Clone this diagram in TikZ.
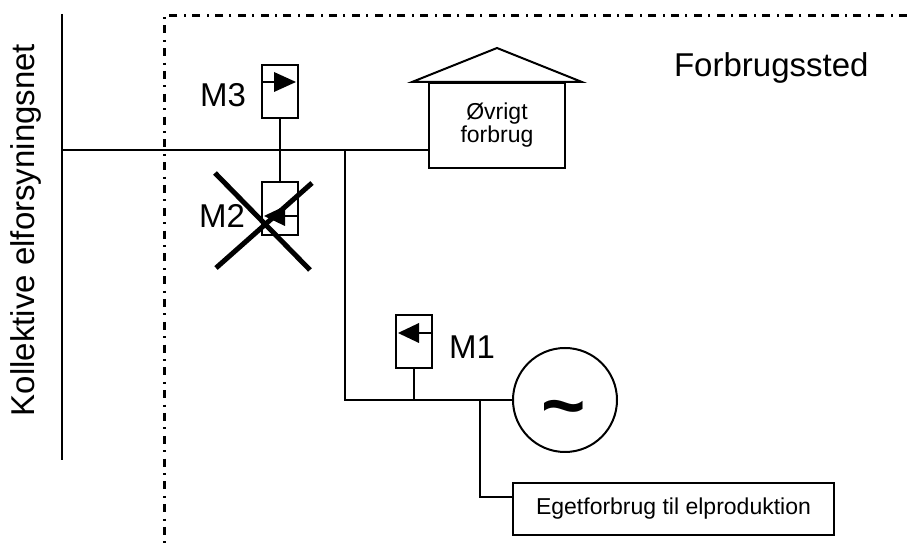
\documentclass[tikz,border=0pt]{standalone}
\usepackage{fontspec}
\setmainfont{Liberation Sans}
\usetikzlibrary{calc,positioning,shapes.geometric}
\tikzset{%
	wire/.style     = {line width=1pt},
	meter/.style    = {draw, line width=1pt, rectangle, minimum width=18pt, minimum height=26.5pt, inner sep=0pt},
	consumer/.style = {draw, line width=1pt, rectangle, minimum width=68pt, minimum height=42.5pt, align=center, font=\fontsize{11.5}{11.5}\selectfont},
	process/.style  = {draw, line width=1pt, rectangle, minimum width=160.5pt, minimum height=26pt, font=\fontsize{11.5}{11.5}\selectfont},
	generator/.style= {draw, line width=1pt, circle, minimum size=52pt, inner sep=0pt},
	mname/.style    = {anchor=base, font=\fontsize{16.5}{16.5}\selectfont},
	boundary/.style = {line width=1.5pt, dash pattern=on 4pt off 3.2pt on 1pt off 3.2pt},
	cross/.style    = {line width=2.5pt},
}
\begin{document}
\begin{tikzpicture}[x=0.5pt,y=-0.5pt]
		\useasboundingbox (0,0) rectangle (907,549);
		% collective grid
		\coordinate (gridtop) at (62,14);
		\coordinate (gridbot) at (62,460);
		\draw[wire] (gridtop) -- (gridbot);
		\node[rotate=90, font=\fontsize{16.5}{16.5}\selectfont] (gridname) at (26,230) {Kollektive elforsyningsnet};
		
		% site boundary
		\draw[boundary] (907,16) -- (164,16) -- (164,549);
		\node[anchor=base west, font=\fontsize{16.5}{16.5}\selectfont] (site) at (667,77) {Forbrugssted};
		
		% meters
		\node[meter] (m3) at (280,91.5) {};
		\node[meter] (m2) at (280,208.5) {};
		\node[meter] (m1) at (414,341.5) {};
		\draw[wire] (m3.west |- 0,82) -- (274,82);
		\fill (274,72) -- (296,82) -- (274,92) -- cycle;
		\draw[wire] (m2.east |- 0,216) -- (285,216);
		\fill (285,206) -- (264,216) -- (285,226) -- cycle;
		\draw[wire] (m1.east |- 0,333) -- (419,333);
		\fill (419,323) -- (398,333) -- (419,343) -- cycle;
		\node[mname] (m3name) at (223,107) {M3};
		\node[mname] (m2name) at (222,228) {M2};
		\node[mname] (m1name) at (472,359) {M1};
		\draw[cross] (215,173) -- (310,270);
		\draw[cross] (312,183) -- (216,268);
		
		% consumers and production
		\node[consumer] (other) at (497,125.5) {Øvrigt\\forbrug};
		\draw[wire] ([xshift=-8pt]other.north west) -- (497,48) -- ([xshift=8pt]other.north east) -- cycle;
		\node[generator] (gen) at (565,400) {};
		\node[anchor=base, inner sep=0pt, font=\bfseries\fontsize{38}{38}\selectfont] (tilde) at (564,432) {\textasciitilde};
		\node[process] (own) at (673.5,509) {Egetforbrug til elproduktion};
		
		% connections
		\coordinate (tap) at (62,150);
		\coordinate (junc) at (345,150);
		\coordinate (split) at (480,400);
		\draw[wire] (tap) -- (tap -| other.west);
		\draw[wire] (m3.south) -- (m2.north);
		\draw[wire] (junc) |- (gen.west);
		\draw[wire] (m1.south) -- (m1.south |- gen.west);
		\draw[wire] (split) |- ([yshift=-7.5pt]own.north west);
		
	\end{tikzpicture}
\end{document}
